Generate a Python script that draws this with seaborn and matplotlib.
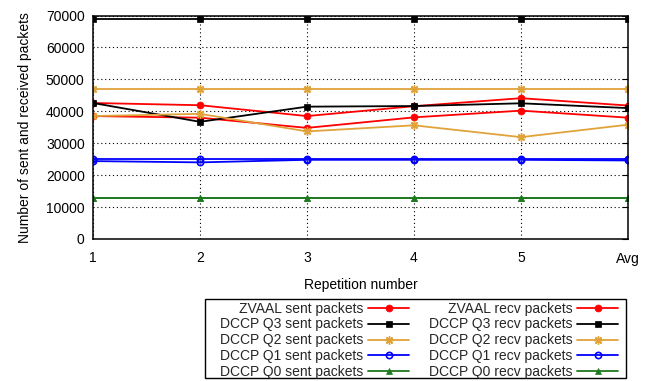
import matplotlib
matplotlib.use("Agg")
import matplotlib.pyplot as plt
from matplotlib.patches import Rectangle
import seaborn as sns
import numpy as np

sns.set_theme(style="white")
plt.rcParams["font.family"] = ["Liberation Sans", "DejaVu Sans"]

# Repetitions and packet counts per protocol
repetitions = ["1", "2", "3", "4", "5", "Avg"]

zvaal_sent = [42600, 41900, 38500, 41600, 44100, 41800]
zvaal_recv = [38500, 38000, 34800, 38100, 40200, 38000]
q3_sent = [69000, 69000, 69000, 69000, 69000, 69000]
q3_recv = [42600, 36700, 41450, 41640, 42500, 41000]
q2_sent = [47100, 47100, 47100, 47100, 47100, 47100]
q2_recv = [38500, 39200, 33700, 35600, 31900, 35800]
q1_sent = [25000, 25000, 25000, 25000, 25000, 25000]
q1_recv = [24400, 24000, 24800, 24800, 24800, 24600]
q0_sent = [12900, 12900, 12900, 12900, 12900, 12900]
q0_recv = [12900, 12900, 12900, 12900, 12900, 12900]

series = [
    ("ZVAAL sent packets", zvaal_sent, "#ff0000", "o", "full"),
    ("DCCP Q3 sent packets", q3_sent, "#000000", "s", "full"),
    ("DCCP Q2 sent packets", q2_sent, "#e0a33a", (8, 2, 0), "full"),
    ("DCCP Q1 sent packets", q1_sent, "#0000ff", "o", "none"),
    ("DCCP Q0 sent packets", q0_sent, "#1f7a1f", "^", "full"),
    ("ZVAAL recv packets", zvaal_recv, "#ff0000", "o", "full"),
    ("DCCP Q3 recv packets", q3_recv, "#000000", "s", "full"),
    ("DCCP Q2 recv packets", q2_recv, "#e0a33a", (8, 2, 0), "full"),
    ("DCCP Q1 recv packets", q1_recv, "#0000ff", "o", "none"),
    ("DCCP Q0 recv packets", q0_recv, "#1f7a1f", "^", "full"),
]

FS = 10
W, H = 651, 381

fig = plt.figure(figsize=(W / 100, H / 100), dpi=100)
ax = fig.add_axes([93 / W, 1 - 239 / H, (628 - 93) / W, (239 - 15.5) / H])

x = np.arange(len(repetitions))
for label, vals, color, marker, fill in series:
    if fill == "none":
        kw = dict(markerfacecolor="none", markeredgewidth=1.2, markersize=4.5)
    elif marker == "s":
        kw = dict(markeredgewidth=0.5, markersize=5)
    elif marker == "^":
        kw = dict(markeredgewidth=0.5, markersize=4.5)
    elif marker == "o":
        kw = dict(markeredgewidth=0.5, markersize=5)
    else:
        kw = dict(markeredgewidth=1.0, markersize=6)
    sns.lineplot(x=x, y=vals, ax=ax, color=color, marker=marker,
                 markeredgecolor=color, linewidth=1.3, label=label, **kw)

ax.set_xlim(0, len(repetitions) - 1)
ax.set_ylim(0, 70000)
ax.set_xticks(x)
ax.set_xticklabels(repetitions)
ax.set_yticks(np.arange(0, 70001, 10000))
ax.grid(True, color="black", linestyle=(0, (1, 2.5)), linewidth=0.8)
ax.tick_params(direction="in", length=4, width=0.8, colors="black",
               top=True, right=True, labelsize=FS)
ax.tick_params(axis="x", pad=9)
ax.tick_params(axis="y", pad=6)
for s in ax.spines.values():
    s.set_color("black")
    s.set_linewidth(1.1)

ax.set_xlabel("Repetition number", fontsize=FS, color="black", labelpad=9)
ax.set_ylabel("Number of sent and received packets", fontsize=FS, color="black", labelpad=10)

ax.get_legend().remove()
handles, labels = ax.get_legend_handles_labels()
leg = fig.legend(handles, labels, ncol=2, loc="upper left",
                 bbox_to_anchor=(220 / W, 1 - 301.5 / H), markerfirst=False,
                 fontsize=FS, frameon=False,
                 borderpad=0, labelspacing=0.14, handlelength=2.95,
                 handletextpad=0.35, columnspacing=1.4, borderaxespad=0)
for t in leg.get_texts():
    t.set_ha("right")

# key box
fig.patches.append(Rectangle((205 / W, 1 - 378 / H), (626 - 205) / W, (378 - 299) / H,
                             transform=fig.transFigure, fill=False,
                             edgecolor="black", linewidth=1.0))

fig.savefig("out.png", dpi=100)
